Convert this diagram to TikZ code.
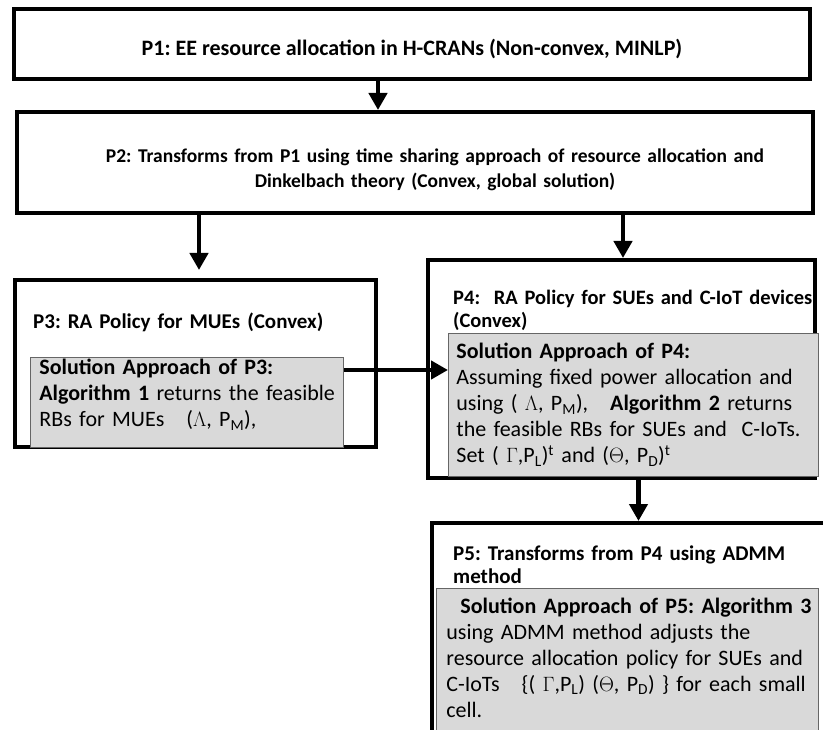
\documentclass[tikz,border=0pt]{standalone}
\usepackage{fontspec}
\setmainfont{Carlito}
\usetikzlibrary{arrows.meta, positioning}
\frenchspacing

\tikzset{
  outbox/.style={draw, line width=4pt, inner sep=0pt},
  solbox/.style={draw=black!60, fill=black!15, line width=0.8pt, inner sep=0pt, align=left},
  headtext/.style={inner sep=0pt, align=left, text width=400pt, font=\fontsize{21}{23}\selectfont\bfseries},
  flow/.style={line width=4.5pt, -{Triangle[width=18pt,length=17pt]}}
}

\begin{document}
\begin{tikzpicture}[x=1pt, y=-1pt, font=\fontsize{22}{26}\selectfont]
\useasboundingbox (0,0) rectangle (823,730);
% top two problems
\node[outbox, anchor=base, minimum width=796pt, text height=47pt, text depth=23pt] (p1) at (412,56)
  {\bfseries P1: EE resource allocation in H-CRANs (Non-convex, MINLP)};
\node[outbox, anchor=base, text width=780pt, inner xsep=8pt, align=center, text height=51pt, text depth=50pt,
  font=\fontsize{19.5}{25}\selectfont\bfseries] (p2) at (415,163)
  {\hspace*{40pt}P2: Transforms from P1 using time sharing approach of resource allocation and\\
   \hspace*{40pt}Dinkelbach theory (Convex, global solution)};
%
% MUEs
\node[outbox, minimum width=361pt, minimum height=167pt] (p3) at (195.5,363.5) {};
\node[headtext, anchor=base west] (p3head) at (33,329) {P3: RA Policy for MUEs (Convex)};
\node[solbox, anchor=base west, text width=313pt, text height=18pt, text depth=72pt] (p3sol) at (30,375)
  {\leftskip=9pt
   \textbf{Solution Approach of P3:}\\
   \textbf{Algorithm 1} returns the feasible\\
   RBs for MUEs~~ ($\Lambda$, P\textsubscript{M}),\par};
%
% SUEs and C-IoT
\node[outbox, minimum width=387pt, minimum height=218pt] (p4) at (621.5,369) {};
\node[headtext, anchor=base west, font=\fontsize{20.5}{23}\selectfont\bfseries] (p4head) at (453,305)
  {P4:~ RA Policy for SUEs and C-IoT devices\\(Convex)};
\node[solbox, anchor=base west, text width=370pt, text height=26pt, text depth=117pt] (p4sol) at (448,359)
  {\leftskip=8pt
   \textbf{Solution Approach of P4:}\\
   Assuming fixed power allocation and\\
   using ( $\Lambda$, P\textsubscript{M}),~~ \textbf{Algorithm 2} returns\\
   the feasible RBs for SUEs and~ C-IoTs.\\
   Set ( $\Gamma$,P\textsubscript{L})\textsuperscript{t} and ($\Theta$, P\textsubscript{D})\textsuperscript{t}\par};
%
% ADMM
\node[outbox, minimum width=413pt, minimum height=222pt] (p5) at (638.5,634) {};
\node[headtext, anchor=base west] (p5head) at (453,560)
  {P5: Transforms from P4 using ADMM\\method};
\node[solbox, anchor=base west, text width=382pt, text height=25pt, text depth=140pt] (p5sol) at (436,613)
  {\leftskip=10pt
   \hspace*{14pt}\textbf{Solution Approach of P5: Algorithm 3}\\
   using ADMM method adjusts the\\
   resource allocation policy for SUEs and\\
   C-IoTs~~ \{( $\Gamma$,P\textsubscript{L}) ($\Theta$, P\textsubscript{D}) \} for each small\\
   cell.\par};
%
\draw[flow] ([xshift=-34pt]p1.south) -- ([xshift=-37pt]p2.north);
\draw[flow] ([xshift=-216pt]p2.south) -- ([xshift=3.5pt, yshift=8pt]p3.north);
\draw[flow] ([xshift=208pt]p2.south) -- ([xshift=1.5pt]p4.north);
\draw[flow] ([yshift=32pt]p3sol.east) -- ([yshift=34.5pt]p4sol.west);
\draw[flow] (p4.south -| p5.north) -- (p5.north);
\end{tikzpicture}
\end{document}
